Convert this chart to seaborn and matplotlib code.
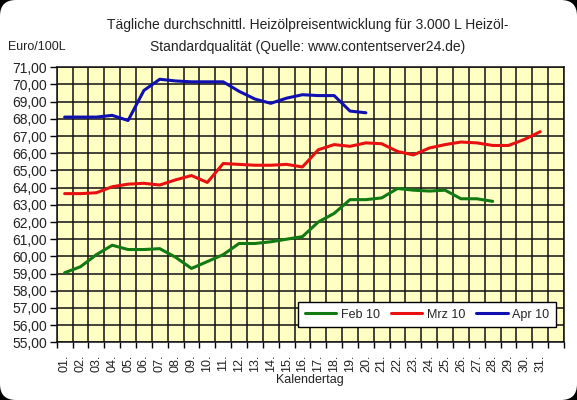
import pandas as pd
import matplotlib
matplotlib.use("Agg")
from matplotlib import pyplot as plt
from matplotlib.patches import FancyBboxPatch
from matplotlib.ticker import FixedLocator, FuncFormatter
import seaborn as sns

# Heizölpreise Euro/100L, je Kalendertag
days = ["%02d." % d for d in range(1, 32)]
feb = [59.05, 59.4, 60.1, 60.65, 60.4, 60.4, 60.45, 59.95, 59.3, 59.7, 60.1, 60.75, 60.75, 60.85,
       61.0, 61.15, 62.0, 62.5, 63.3, 63.3, 63.4, 63.95, 63.85, 63.8, 63.85, 63.35, 63.35, 63.2]
mrz = [63.65, 63.65, 63.7, 64.05, 64.2, 64.25, 64.15, 64.45, 64.7, 64.3, 65.4, 65.35, 65.3, 65.3,
       65.35, 65.2, 66.2, 66.5, 66.4, 66.6, 66.55, 66.1, 65.9, 66.3, 66.5, 66.65, 66.6, 66.45,
       66.45, 66.8, 67.25]
apr = [68.1, 68.1, 68.1, 68.2, 67.9, 69.65, 70.3, 70.2, 70.15, 70.15, 70.15, 69.6, 69.15, 68.9,
       69.2, 69.4, 69.35, 69.35, 68.45, 68.35]
series = ["Feb 10", "Mrz 10", "Apr 10"]
colors = ["#127a12", "#e81010", "#1010b0"]

rows = []
for name, vals in zip(series, [feb, mrz, apr]):
    for i, v in enumerate(vals):
        rows.append({"tag": i, "preis": v, "monat": name})
df = pd.DataFrame(rows)

sns.set_theme(style="white")
plt.rcParams["font.family"] = ["Liberation Sans", "DejaVu Sans"]
plt.rcParams["font.size"] = 9

fig = plt.figure(figsize=(5.77, 4.0), dpi=100)
fig.patch.set_facecolor("black")
fig.add_artist(FancyBboxPatch((0, 0), 577, 400, boxstyle="round,pad=0,rounding_size=16",
                              transform=None, facecolor="white", edgecolor="none", zorder=-10))

ax = fig.add_axes([0.0983, 0.144, 0.8792, 0.688])
ax.set_facecolor("#ffffc4")

sns.lineplot(data=df, x="tag", y="preis", hue="monat", palette=colors, linewidth=2.2, ax=ax)

ax.set_xlim(-0.5, 31.5)
ax.set_ylim(55, 71)
ax.set_yticks(range(55, 72))
ax.yaxis.set_major_formatter(FuncFormatter(lambda v, p: ("%.2f" % v).replace(".", ",")))

ax.xaxis.set_major_locator(FixedLocator([i - 0.5 for i in range(33)]))
ax.xaxis.set_minor_locator(FixedLocator(range(31)))
ax.set_xticklabels([], minor=False)
ax.set_xticklabels(days, minor=True, rotation=90)
ax.tick_params(axis="x", which="minor", length=0, pad=9, labelsize=9, colors="#222222")
ax.tick_params(axis="x", which="major", length=4, width=1, color="black", direction="out")
ax.tick_params(axis="y", length=5, width=1, color="black", direction="out", pad=2,
               labelsize=10, labelcolor="#222222")
ax.tick_params(bottom=True, left=True)

ax.grid(True, which="major", color="#111111", linewidth=1.1)
for s in ax.spines.values():
    s.set_color("#111111")
    s.set_linewidth(1.1)

ax.set_xlabel("Kalendertag", fontsize=9, color="#222222", labelpad=1)
ax.set_ylabel("")

handles, labels = ax.get_legend_handles_labels()
ax.legend(handles, labels, ncol=3, loc="lower right", bbox_to_anchor=(0.984, 0.0545),
          borderaxespad=0, frameon=True, fancybox=False, framealpha=1, edgecolor="black",
          facecolor="white", handlelength=2.5, handletextpad=0.35, columnspacing=0.9,
          borderpad=0.55, fontsize=9)

fig.text(0.533, 0.91, "Tägliche durchschnittl. Heizölpreisentwicklung für 3.000 L Heizöl-\n"
         "Standardqualität (Quelle: www.contentserver24.de)",
         ha="center", va="center", fontsize=10, color="#222222", linespacing=1.65)
fig.text(0.014, 0.882, "Euro/100L", ha="left", va="center", fontsize=9, color="#222222")

fig.savefig("out.png", dpi=100, facecolor=fig.get_facecolor())
